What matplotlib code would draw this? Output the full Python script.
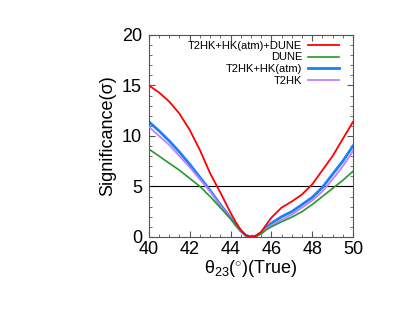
import matplotlib
matplotlib.use("Agg")
import matplotlib.pyplot as plt
from matplotlib.ticker import MultipleLocator

plt.rcParams['font.family'] = ['Liberation Sans', 'DejaVu Sans']
plt.rcParams['mathtext.fontset'] = 'custom'
plt.rcParams['mathtext.rm'] = 'Liberation Sans'
plt.rcParams['mathtext.it'] = 'Liberation Sans'

# theta23 (true) grid
theta = [40, 40.5, 41, 41.5, 42, 42.5, 43, 43.5, 44, 44.25, 44.5, 44.75, 45,
         45.25, 45.5, 45.75, 46, 46.5, 47, 47.5, 48, 48.5, 49, 49.5, 50]

# significance curves
combined = [15.0, 14.3, 13.4, 12.2, 10.6, 8.6, 6.3, 4.4, 2.4, 1.5, 0.7, 0.15, 0.0,
            0.1, 0.5, 1.2, 1.9, 2.9, 3.5, 4.2, 5.2, 6.6, 8.0, 9.7, 11.4]
dune = [8.7, 8.0, 7.3, 6.6, 5.8, 5.0, 4.0, 2.9, 1.8, 1.2, 0.6, 0.15, 0.0,
        0.1, 0.3, 0.7, 1.0, 1.5, 1.95, 2.5, 3.2, 4.0, 4.8, 5.6, 6.5]
t2hk_atm = [11.4, 10.5, 9.5, 8.4, 7.2, 5.9, 4.6, 3.2, 1.9, 1.2, 0.6, 0.15, 0.0,
            0.1, 0.4, 0.9, 1.35, 2.0, 2.5, 3.2, 3.9, 4.9, 6.2, 7.5, 9.0]
t2hk = [10.9, 10.0, 9.1, 8.0, 6.9, 5.7, 4.5, 3.1, 1.85, 1.15, 0.6, 0.15, 0.0,
        0.1, 0.35, 0.8, 1.15, 1.7, 2.2, 2.9, 3.6, 4.5, 5.7, 7.0, 8.5]

fig = plt.figure(figsize=[4.09, 3.18], dpi=100)
ax = fig.add_axes([0.364, 0.255, 0.499, 0.635])

ax.axhline(5, color='black', lw=0.8)
l4, = ax.plot(theta, t2hk, color='#c080ff', lw=1.3, zorder=3)
l3, = ax.plot(theta, t2hk_atm, color='#1a7fff', lw=2.0, zorder=2)
l2, = ax.plot(theta, dune, color='#2a962a', lw=1.2, zorder=3)
l1, = ax.plot(theta, combined, color='#ff0000', lw=1.3, zorder=4)

ax.set_xlim(40, 50)
ax.set_ylim(0, 20)
ax.xaxis.set_major_locator(MultipleLocator(2))
ax.xaxis.set_minor_locator(MultipleLocator(0.5))
ax.yaxis.set_major_locator(MultipleLocator(5))
ax.yaxis.set_minor_locator(MultipleLocator(1))
ax.tick_params(which='both', direction='in', top=True, right=True,
               labelsize=13, color='#555555')
ax.tick_params(which='major', length=4)
ax.tick_params(which='minor', length=2)
ax.tick_params(axis='x', pad=3)
ax.tick_params(axis='y', pad=5)
for s in ax.spines.values():
    s.set_color('#555555')

ax.set_xlabel('θ$_{23}$($^{\\circ}$)(True)', fontsize=13, labelpad=0)
ax.set_ylabel('Significance(σ)', fontsize=13, labelpad=4)

leg = ax.legend([l1, l2, l3, l4],
                ['T2HK+HK(atm)+DUNE', 'DUNE', 'T2HK+HK(atm)', 'T2HK'],
                loc='upper right', bbox_to_anchor=(0.97, 1.01), frameon=False,
                fontsize=8, markerfirst=False, handlelength=2.8,
                handletextpad=0.5, labelspacing=0.15, borderaxespad=0.3)
for t in leg.get_texts():
    t.set_ha('right')

fig.savefig('out.png', dpi=100)
